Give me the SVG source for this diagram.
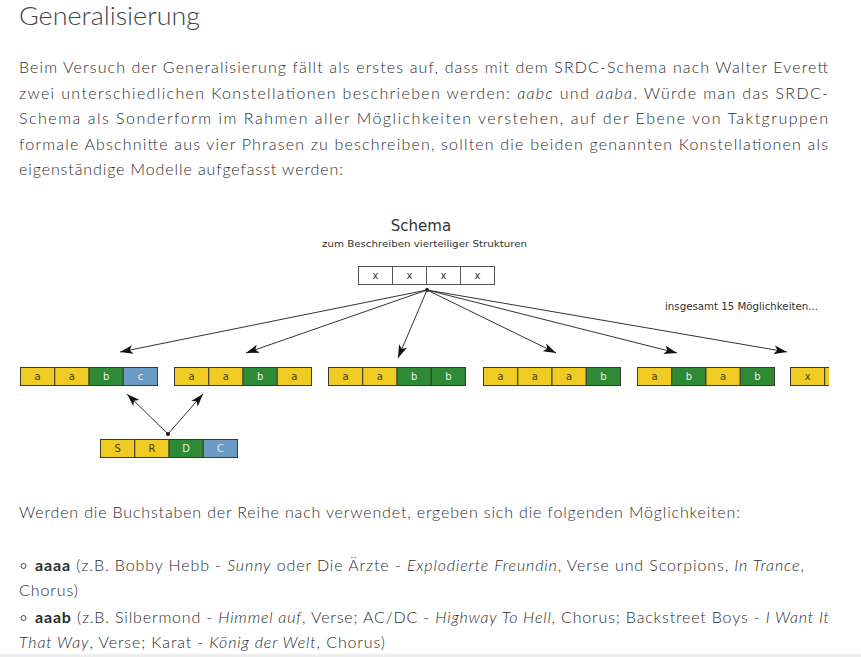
<svg xmlns="http://www.w3.org/2000/svg" width="861" height="657" viewBox="0 0 861 657">
<style>
.page{font-family:Lato,"Open Sans","Liberation Sans",sans-serif;fill:#2e2e2e;font-size:16px;font-weight:300}
.title{font-family:Lato,"Open Sans","Liberation Sans",sans-serif;font-weight:300;font-size:26px;fill:#444}
.dg{font-family:"DejaVu Sans",Verdana,sans-serif;fill:#333}
.cell{stroke:#3a3a30;stroke-width:1}
.Y{fill:#efcb23}
.G{fill:#2f8a35}
.B{fill:#6b9bc4}
.W{fill:#fff;stroke:#555}
.lt{font-family:"DejaVu Sans",Verdana,sans-serif;font-size:10px;text-anchor:middle}
.ld{fill:#4a3e10}
.ll{fill:#e6eee6}
.arr{stroke:#333;stroke-width:1;fill:none;marker-end:url(#ah)}
.b{font-weight:700}
</style>
<defs>
<marker id="ah" viewBox="0 0 12 8" refX="12" refY="4" markerWidth="13" markerHeight="9" orient="auto" markerUnits="userSpaceOnUse">
<path d="M0,0 L12,4 L0,8 L3,4 Z" fill="#111"/>
</marker>
<clipPath id="clipR"><rect x="0" y="0" width="829" height="657"/></clipPath>
</defs>
<rect width="861" height="657" fill="#fff"/>

<text class="title" x="19" y="25" textLength="181" lengthAdjust="spacingAndGlyphs">Generalisierung</text>

<g id="intro" class="page">
<text x="19" y="73" textLength="809" lengthAdjust="spacing">Beim Versuch der Generalisierung fällt als erstes auf, dass mit dem SRDC-Schema nach Walter Everett</text>
<text x="19" y="98.5" textLength="809" lengthAdjust="spacing">zwei unterschiedlichen Konstellationen beschrieben werden: <tspan font-style="italic">aabc</tspan> und <tspan font-style="italic">aaba</tspan>. Würde man das SRDC-</text>
<text x="19" y="124" textLength="809" lengthAdjust="spacing">Schema als Sonderform im Rahmen aller Möglichkeiten verstehen, auf der Ebene von Taktgruppen</text>
<text x="19" y="149.5" textLength="809" lengthAdjust="spacing">formale Abschnitte aus vier Phrasen zu beschreiben, sollten die beiden genannten Konstellationen als</text>
<text x="19" y="175" textLength="324" lengthAdjust="spacing">eigenständige Modelle aufgefasst werden:</text>
</g>

<g id="diagram-titles">
<text class="dg" x="421" y="231" font-size="15" text-anchor="middle">Schema</text>
<text class="dg" x="424.5" y="246.5" font-size="9.5" text-anchor="middle" textLength="205" lengthAdjust="spacingAndGlyphs">zum Beschreiben vierteiliger Strukturen</text>
<text class="dg" x="665" y="310" font-size="10" textLength="153" lengthAdjust="spacingAndGlyphs">insgesamt 15 Möglichkeiten...</text>
</g>

<g id="schema">
<rect class="W" x="358.5" y="266.5" width="34" height="18"/>
<rect class="W" x="392.5" y="266.5" width="34" height="18"/>
<rect class="W" x="426.5" y="266.5" width="34" height="18"/>
<rect class="W" x="460.5" y="266.5" width="34" height="18"/>
<text class="lt" fill="#333" x="375.5" y="279">x</text>
<text class="lt" fill="#333" x="409.5" y="279">x</text>
<text class="lt" fill="#333" x="443.5" y="279">x</text>
<text class="lt" fill="#333" x="477.5" y="279">x</text>
</g>

<g id="connectors">
<circle cx="427" cy="290" r="2" fill="#111"/>
<line class="arr" x1="427" y1="290" x2="120" y2="352"/>
<line class="arr" x1="427" y1="290" x2="246" y2="353"/>
<line class="arr" x1="427" y1="290" x2="398" y2="358"/>
<line class="arr" x1="427" y1="290" x2="556" y2="353"/>
<line class="arr" x1="427" y1="290" x2="677" y2="353"/>
<line class="arr" x1="427" y1="290" x2="787" y2="352"/>
<circle cx="168" cy="434" r="2" fill="#111"/>
<line class="arr" x1="168" y1="434" x2="127" y2="394"/>
<line class="arr" x1="168" y1="434" x2="203" y2="394"/>
</g>

<g id="aabc">
<rect class="cell Y" x="20.5" y="367.5" width="34.25" height="18"/>
<rect class="cell Y" x="54.75" y="367.5" width="34.25" height="18"/>
<rect class="cell G" x="89" y="367.5" width="34.25" height="18"/>
<rect class="cell B" x="123.25" y="367.5" width="34.25" height="18"/>
<text class="lt ld" x="37.6" y="380">a</text>
<text class="lt ld" x="71.9" y="380">a</text>
<text class="lt ll" x="106.1" y="380">b</text>
<text class="lt ll" x="140.4" y="380">c</text>
</g>

<g id="aaba">
<rect class="cell Y" x="174.5" y="367.5" width="34.25" height="18"/>
<rect class="cell Y" x="208.75" y="367.5" width="34.25" height="18"/>
<rect class="cell G" x="243" y="367.5" width="34.25" height="18"/>
<rect class="cell Y" x="277.25" y="367.5" width="34.25" height="18"/>
<text class="lt ld" x="191.6" y="380">a</text>
<text class="lt ld" x="225.9" y="380">a</text>
<text class="lt ll" x="260.1" y="380">b</text>
<text class="lt ld" x="294.4" y="380">a</text>
</g>

<g id="aabb">
<rect class="cell Y" x="328.5" y="367.5" width="34.25" height="18"/>
<rect class="cell Y" x="362.75" y="367.5" width="34.25" height="18"/>
<rect class="cell G" x="397" y="367.5" width="34.25" height="18"/>
<rect class="cell G" x="431.25" y="367.5" width="34.25" height="18"/>
<text class="lt ld" x="345.6" y="380">a</text>
<text class="lt ld" x="379.9" y="380">a</text>
<text class="lt ll" x="414.1" y="380">b</text>
<text class="lt ll" x="448.4" y="380">b</text>
</g>

<g id="aaab">
<rect class="cell Y" x="483.5" y="367.5" width="34.25" height="18"/>
<rect class="cell Y" x="517.75" y="367.5" width="34.25" height="18"/>
<rect class="cell Y" x="552" y="367.5" width="34.25" height="18"/>
<rect class="cell G" x="586.25" y="367.5" width="34.25" height="18"/>
<text class="lt ld" x="500.6" y="380">a</text>
<text class="lt ld" x="534.9" y="380">a</text>
<text class="lt ld" x="569.1" y="380">a</text>
<text class="lt ll" x="603.4" y="380">b</text>
</g>

<g id="abab">
<rect class="cell Y" x="637.5" y="367.5" width="34.25" height="18"/>
<rect class="cell G" x="671.75" y="367.5" width="34.25" height="18"/>
<rect class="cell Y" x="706" y="367.5" width="34.25" height="18"/>
<rect class="cell G" x="740.25" y="367.5" width="34.25" height="18"/>
<text class="lt ld" x="654.6" y="380">a</text>
<text class="lt ll" x="688.9" y="380">b</text>
<text class="lt ld" x="723.1" y="380" font-size="11">a</text>
<text class="lt ll" x="757.4" y="380">b</text>
</g>

<g id="xpartial" clip-path="url(#clipR)">
<rect class="cell Y" x="790.5" y="367.5" width="34.25" height="18"/>
<rect class="cell Y" x="824.75" y="367.5" width="34.25" height="18"/>
<text class="lt ld" x="807.6" y="380">x</text>
</g>

<g id="srdc">
<rect class="cell Y" x="100.5" y="439.5" width="34.25" height="18"/>
<rect class="cell Y" x="134.75" y="439.5" width="34.25" height="18"/>
<rect class="cell G" x="169" y="439.5" width="34.25" height="18"/>
<rect class="cell B" x="203.25" y="439.5" width="34.25" height="18"/>
<text class="lt ld" x="117.6" y="452">S</text>
<text class="lt ld" x="151.9" y="452">R</text>
<text class="lt ll" x="186.1" y="452">D</text>
<text class="lt ll" x="220.4" y="452">C</text>
</g>

<g id="list" class="page">
<text x="19" y="518" textLength="721" lengthAdjust="spacing">Werden die Buchstaben der Reihe nach verwendet, ergeben sich die folgenden Möglichkeiten:</text>
<circle cx="23.5" cy="566" r="2.5" fill="none" stroke="#444" stroke-width="1"/>
<text x="35" y="571" textLength="769" lengthAdjust="spacing"><tspan class="b">aaaa</tspan> (z.B. Bobby Hebb - <tspan font-style="italic">Sunny</tspan> oder Die Ärzte - <tspan font-style="italic">Explodierte Freundin</tspan>, Verse und Scorpions, <tspan font-style="italic">In Trance</tspan>,</text>
<text x="19" y="596" textLength="59" lengthAdjust="spacing">Chorus)</text>
<circle cx="23.5" cy="618" r="2.5" fill="none" stroke="#444" stroke-width="1"/>
<text x="35" y="623" textLength="794" lengthAdjust="spacing"><tspan class="b">aaab</tspan> (z.B. Silbermond - <tspan font-style="italic">Himmel auf</tspan>, Verse; AC/DC - <tspan font-style="italic">Highway To Hell</tspan>, Chorus; Backstreet Boys - <tspan font-style="italic">I Want It</tspan></text>
<text x="19" y="648" textLength="366" lengthAdjust="spacing"><tspan font-style="italic">That Way</tspan>, Verse; Karat - <tspan font-style="italic">König der Welt</tspan>, Chorus)</text>
</g>
<rect x="0" y="654" width="861" height="3" fill="#eeeeee"/>
</svg>
